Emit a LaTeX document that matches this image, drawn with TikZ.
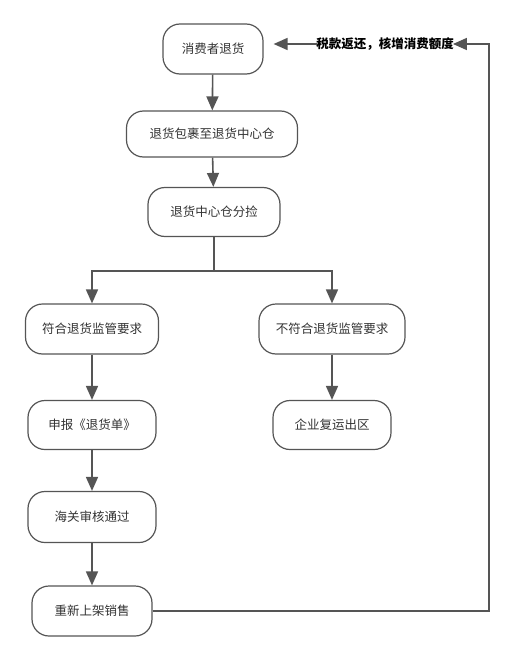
\documentclass[tikz,border=0pt]{standalone}
\usepackage{fontspec}
\setmainfont{Noto Sans CJK SC}
\usetikzlibrary{arrows.meta}
\definecolor{linec}{HTML}{555555}
\definecolor{textc}{HTML}{333333}
\begin{document}
\begin{tikzpicture}[x=1pt,y=-1pt,
  box/.style={draw=linec, line width=1.2pt, rounded corners=17pt, fill=white,
    text=textc, font=\fontsize{12.5}{14}\selectfont, inner sep=0pt,
    minimum height=50pt, anchor=center},
  conn/.style={draw=linec, line width=1.6pt, -{Triangle[length=14pt,width=12pt]}},
  plain/.style={draw=linec, line width=1.6pt}]
\useasboundingbox (0,0) rectangle (514,661);
\node[box, minimum width=100pt] (n1) at (213,49) {消费者退货};
\node[box, minimum width=171pt, minimum height=46pt] (n2) at (212,134) {退货包裹至退货中心仓};
\node[box, minimum width=132pt, minimum height=49pt] (n3) at (214,212) {退货中心仓分捡};
\node[box, minimum width=133pt] (n4) at (92,329) {符合退货监管要求};
\node[box, minimum width=146pt] (n5) at (332,329) {不符合退货监管要求};
\node[box, minimum width=128pt, minimum height=49pt] (n6) at (92,425) {申报《退货单》};
\node[box, minimum width=118pt, minimum height=49pt] (n7) at (332,425) {企业复运出区};
\node[box, minimum width=128pt, minimum height=51pt] (n8) at (92,517) {海关审核通过};
\node[box, minimum width=120pt] (n9) at (92,611) {重新上架销售};
\node[font=\bfseries\fontsize{12.5}{14}\selectfont, text=black, inner sep=0pt] (lbl) at (385,44) {税款返还，核增消费额度};
\coordinate (br) at (332,271);
\coordinate (bl) at (92,271);
\coordinate (bm) at (214,271);
\coordinate (rt) at (489,44);
\coordinate (rb) at (489,611);
\draw[conn] (n1) -- (n2);
\draw[conn] (n2) -- (n3);
\draw[plain] (n3.south) -- (bm);
\draw[conn] (bm) -- (bl) -- (n4.north);
\draw[conn] (bm) -- (br) -- (n5.north);
\draw[conn] (n4) -- (n6);
\draw[conn] (n5) -- (n7);
\draw[conn] (n6) -- (n8);
\draw[conn] (n8) -- (n9);
\draw[conn] (n9.east) -- (rb) -- (rt) -- ([xshift=-1pt]lbl.east);
\draw[conn] ([xshift=1pt]lbl.west) -- ([xshift=10pt]n1.east|-lbl.west);
\end{tikzpicture}
\end{document}
